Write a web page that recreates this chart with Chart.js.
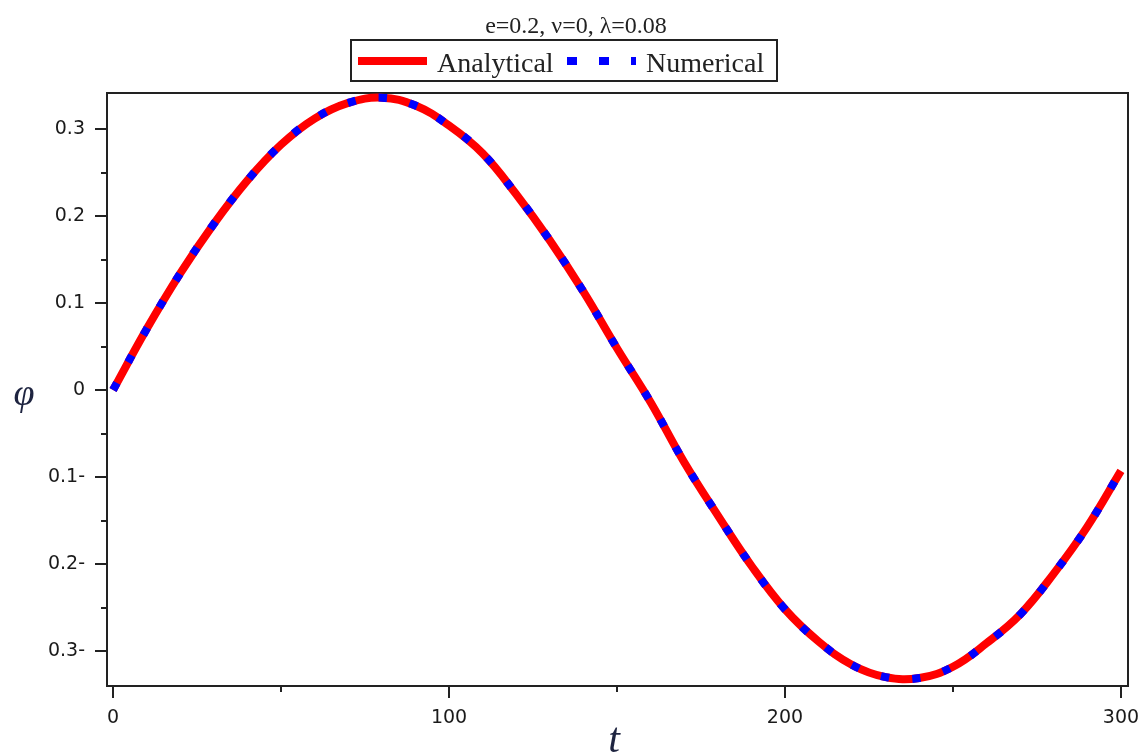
<!DOCTYPE html>
<html>
<head>
<meta charset="utf-8">
<script src="https://cdn.jsdelivr.net/npm/chart.js@4.4.1/dist/chart.umd.min.js"></script>
<style>
  body { margin: 0; background: #fff; }
</style>
</head>
<body>
<canvas id="chart" width="1144" height="754"></canvas>
<script>
// data
const tValues = [0, 10, 20, 30, 40, 50, 60, 70, 80, 90, 100, 110, 120, 130, 140, 150,
                 160, 170, 180, 190, 200, 210, 220, 230, 240, 250, 260, 270, 280, 290, 300];
const analytical = [0.000, 0.070, 0.134, 0.191, 0.241, 0.282, 0.312, 0.330, 0.336, 0.327,
                    0.304, 0.272, 0.225, 0.172, 0.113, 0.048, -0.014, -0.083, -0.144, -0.202,
                    -0.252, -0.289, -0.316, -0.330, -0.331, -0.318, -0.291, -0.258, -0.211, -0.157, -0.093];
const numerical = [0.000, 0.070, 0.134, 0.191, 0.241, 0.282, 0.312, 0.330, 0.336, 0.327,
                   0.304, 0.272, 0.225, 0.172, 0.113, 0.048, -0.014, -0.083, -0.144, -0.202,
                   -0.252, -0.289, -0.316, -0.330, -0.331, -0.318, -0.291, -0.258, -0.211, -0.157, -0.093];

const xTickValues = [0, 100, 200, 300];
const xTickLabels = ['0', '100', '200', '300'];
const xMinorTicks = [50, 150, 250];
const yTickValues = [-0.3, -0.2, -0.1, 0, 0.1, 0.2, 0.3];
const yTickLabels = ['0.3-', '0.2-', '0.1-', '0', '0.1', '0.2', '0.3'];
const yMinorTicks = [-0.25, -0.15, -0.05, 0.05, 0.15, 0.25];

const chartTitle = 'e=0.2, \u03bd=0, \u03bb=0.08';
const seriesNames = ['Analytical', 'Numerical'];

// frame and tick marks (major long, minor short)
const framePlugin = {
    id: 'frame',
    beforeDatasetsDraw(chart) {
        const ctx = chart.ctx;
        const a = chart.chartArea;
        const xs = chart.scales.x;
        const ys = chart.scales.y;
        ctx.save();
        ctx.strokeStyle = '#222';
        ctx.lineWidth = 2;
        ctx.strokeRect(a.left, a.top, a.right - a.left, a.bottom - a.top);
        ctx.beginPath();
        xTickValues.forEach(v => {
            const x = Math.round(xs.getPixelForValue(v));
            ctx.moveTo(x, a.bottom); ctx.lineTo(x, a.bottom + 12);
        });
        xMinorTicks.forEach(v => {
            const x = Math.round(xs.getPixelForValue(v));
            ctx.moveTo(x, a.bottom); ctx.lineTo(x, a.bottom + 6);
        });
        yTickValues.forEach(v => {
            const y = Math.round(ys.getPixelForValue(v));
            ctx.moveTo(a.left, y); ctx.lineTo(a.left - 12, y);
        });
        yMinorTicks.forEach(v => {
            const y = Math.round(ys.getPixelForValue(v));
            ctx.moveTo(a.left, y); ctx.lineTo(a.left - 6, y);
        });
        ctx.stroke();
        ctx.restore();
    },
    afterDraw(chart) {
        const ctx = chart.ctx;
        const ds = chart.data.datasets;
        ctx.save();

        // title
        ctx.fillStyle = '#222';
        ctx.font = '24px "Liberation Serif"';
        ctx.textAlign = 'center';
        ctx.textBaseline = 'alphabetic';
        ctx.fillText(chartTitle, 576, 33);

        // legend box
        ctx.strokeStyle = '#222';
        ctx.lineWidth = 2;
        ctx.strokeRect(351, 40, 426, 41);

        ctx.lineWidth = 8;
        ctx.strokeStyle = ds[0].borderColor;
        ctx.beginPath(); ctx.moveTo(358, 61); ctx.lineTo(427, 61); ctx.stroke();

        ctx.strokeStyle = ds[1].borderColor;
        ctx.setLineDash([10, 22]);
        ctx.beginPath(); ctx.moveTo(567, 61); ctx.lineTo(636, 61); ctx.stroke();
        ctx.setLineDash([]);

        ctx.fillStyle = '#222';
        ctx.font = '28px "Liberation Serif"';
        ctx.textAlign = 'left';
        ctx.fillText(seriesNames[0], 437, 72);
        ctx.fillText(seriesNames[1], 646, 72);

        // axis titles
        ctx.fillStyle = '#1e2440';
        ctx.font = 'italic 38px "Liberation Serif"';
        ctx.textAlign = 'center';
        ctx.fillText('\u03c6', 24, 405);
        ctx.font = 'italic 42px "Liberation Serif"';
        ctx.fillText('t', 614, 752);
        ctx.restore();
    }
};

const ctx = document.getElementById('chart').getContext('2d');
const chart = new Chart(ctx, {
    type: 'line',
    data: {
        labels: tValues,
        datasets: [{
            label: seriesNames[0],
            data: tValues.map((t, i) => ({ x: t, y: analytical[i] })),
            borderColor: '#ff0000',
            borderWidth: 8,
            pointRadius: 0,
            tension: 0.4,
            fill: false,
            order: 2
        },
        {
            label: seriesNames[1],
            data: tValues.map((t, i) => ({ x: t, y: numerical[i] })),
            borderColor: '#0000ff',
            borderWidth: 8,
            borderDash: [8, 23.5],
            borderCapStyle: 'butt',
            pointRadius: 0,
            tension: 0.4,
            fill: false,
            order: 1
        }]
    },
    options: {
        responsive: false,
        animation: false,
        devicePixelRatio: 1,
        layout: { padding: { top: 93, right: 16, left: 0, bottom: 0 } },
        plugins: {
            legend: { display: false },
            title: { display: false },
            tooltip: { enabled: false }
        },
        scales: {
            x: {
                type: 'linear',
                min: -1.8,
                max: 302.1,
                afterBuildTicks: s => { s.ticks = xTickValues.map(v => ({ value: v })); },
                afterFit: s => { s.height = 68; s.paddingLeft = 0; s.paddingRight = 0; },
                grid: { display: false, drawTicks: true, tickLength: 12 },
                border: { display: false },
                ticks: {
                    padding: 9,
                    maxRotation: 0,
                    color: '#1a1a1a',
                    font: { family: '"DejaVu Sans"', size: 19 },
                    callback: (v, i) => xTickLabels[i]
                }
            },
            y: {
                type: 'linear',
                min: -0.3402,
                max: 0.3414,
                afterBuildTicks: s => { s.ticks = yTickValues.map(v => ({ value: v })); },
                afterFit: s => { s.width = 107; s.paddingTop = 0; s.paddingBottom = 0; },
                grid: { display: false, drawTicks: true, tickLength: 12 },
                border: { display: false },
                ticks: {
                    padding: 10,
                    color: '#1a1a1a',
                    font: { family: '"DejaVu Sans"', size: 19 },
                    callback: (v, i) => yTickLabels[i]
                }
            }
        }
    },
    plugins: [framePlugin]
});
</script>
</body>
</html>
